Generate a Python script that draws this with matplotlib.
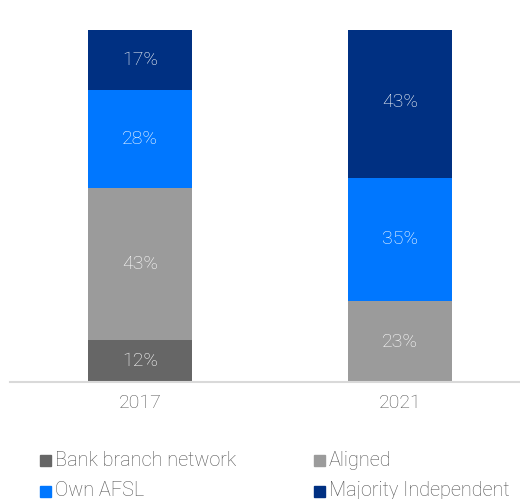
import matplotlib
matplotlib.use("Agg")
import matplotlib.pyplot as plt
from matplotlib.patches import Rectangle

# Share of advice practices by licensing structure
years = ["2017", "2021"]
series = ["Bank branch network", "Aligned", "Own AFSL", "Majority Independent"]
values = {
    "Bank branch network": [12, 0],
    "Aligned": [43, 23],
    "Own AFSL": [28, 35],
    "Majority Independent": [17, 43],
}
colors = {
    "Bank branch network": "#666666",
    "Aligned": "#9b9b9b",
    "Own AFSL": "#0077ff",
    "Majority Independent": "#003082",
}

FONT = dict(family=["Roboto", "DejaVu Sans"], weight="light")
TEXT_GREY = "#555555"

fig = plt.figure(figsize=(5.20, 4.99), dpi=100)
ax = fig.add_axes([10 / 520, (499 - 382) / 499, 510 / 520, 352 / 499])

x = list(range(len(years)))
bottom = [0] * len(years)
for name in series:
    vals = values[name]
    ax.bar(x, vals, width=0.4, bottom=bottom, color=colors[name],
           linewidth=0, zorder=2)
    for xi, b, v in zip(x, bottom, vals):
        if v > 0:
            ax.text(xi, b + v / 2, f"{v}%", ha="center", va="center",
                    color="white", fontsize=14, **FONT, zorder=3)
    bottom = [b + v for b, v in zip(bottom, vals)]

ax.set_xlim(-0.5, 1.462)
ax.set_ylim(0, 100)
ax.set_xticks(x)
ax.set_xticklabels(years, fontsize=14, color=TEXT_GREY, **FONT)
ax.tick_params(axis="x", length=0, pad=9)
ax.set_yticks([])
for s in ["top", "right", "left"]:
    ax.spines[s].set_visible(False)
ax.spines["bottom"].set_color("#d9d9d9")
ax.spines["bottom"].set_linewidth(1.5)

# Legend laid out as a 2x2 grid under the chart
order = ["Bank branch network", "Aligned", "Own AFSL", "Majority Independent"]
col_x = [40, 314]
row_y = [460, 491]
sq = 11
for i, name in enumerate(order):
    r, c = divmod(i, 2)
    px, py = col_x[c], row_y[r]
    fig.patches.append(Rectangle((px / 520, (499 - py - 6) / 499), sq / 520, sq / 499,
                                 transform=fig.transFigure, color=colors[name]))
    fig.text((px + sq + 4) / 520, (499 - py) / 499, name, ha="left", va="center",
             fontsize=14.3, color=TEXT_GREY, **FONT)

fig.savefig("out.png", dpi=100)
